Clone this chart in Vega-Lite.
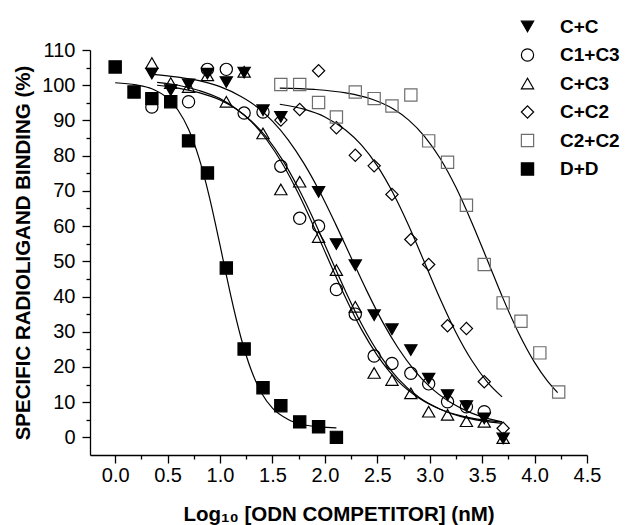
{
  "$schema": "https://vega.github.io/schema/vega-lite/v6.json",
  "width": 497,
  "height": 405,
  "autosize": {"type": "none"},
  "padding": {"left": 90, "top": 50, "right": 52, "bottom": 70},
  "background": "white",
  "config": {
    "view": {"stroke": null},
    "font": "Liberation Sans",
    "axis": {"domainColor": "black", "tickColor": "black", "domainWidth": 1.3, "tickWidth": 1.3, "labelColor": "black", "titleColor": "black", "grid": false, "labelFont": "Liberation Sans", "titleFont": "Liberation Sans", "labelFontSize": 20, "titleFontSize": 20.5, "titleFontWeight": "bold", "labelOverlap": false, "labelFlush": false}
  },
  "datasets": {
    "pts": [
      {"s": "C+C", "x": 0.35, "y": 103.3}, {"s": "C+C", "x": 0.53, "y": 98.6}, {"s": "C+C", "x": 0.70, "y": 100.2}, {"s": "C+C", "x": 0.88, "y": 103.3}, {"s": "C+C", "x": 1.06, "y": 100.9}, {"s": "C+C", "x": 1.23, "y": 103.6}, {"s": "C+C", "x": 1.41, "y": 92.9}, {"s": "C+C", "x": 1.58, "y": 91.0}, {"s": "C+C", "x": 1.94, "y": 69.7}, {"s": "C+C", "x": 2.11, "y": 54.9}, {"s": "C+C", "x": 2.29, "y": 48.9}, {"s": "C+C", "x": 2.47, "y": 34.7}, {"s": "C+C", "x": 2.64, "y": 30.7}, {"s": "C+C", "x": 2.82, "y": 24.8}, {"s": "C+C", "x": 2.99, "y": 16.7}, {"s": "C+C", "x": 3.17, "y": 12.0}, {"s": "C+C", "x": 3.35, "y": 8.9}, {"s": "C+C", "x": 3.52, "y": 5.4}, {"s": "C+C", "x": 3.70, "y": -0.3},
      {"s": "C1+C3", "x": 0.35, "y": 93.8}, {"s": "C1+C3", "x": 0.70, "y": 95.3}, {"s": "C1+C3", "x": 0.88, "y": 104.5}, {"s": "C1+C3", "x": 1.06, "y": 104.5}, {"s": "C1+C3", "x": 1.23, "y": 92.1}, {"s": "C1+C3", "x": 1.41, "y": 92.4}, {"s": "C1+C3", "x": 1.58, "y": 77.0}, {"s": "C1+C3", "x": 1.76, "y": 62.2}, {"s": "C1+C3", "x": 1.94, "y": 60.0}, {"s": "C1+C3", "x": 2.11, "y": 42.0}, {"s": "C1+C3", "x": 2.29, "y": 35.0}, {"s": "C1+C3", "x": 2.47, "y": 23.1}, {"s": "C1+C3", "x": 2.64, "y": 21.0}, {"s": "C1+C3", "x": 2.82, "y": 18.2}, {"s": "C1+C3", "x": 2.99, "y": 15.2}, {"s": "C1+C3", "x": 3.17, "y": 10.1}, {"s": "C1+C3", "x": 3.35, "y": 8.7}, {"s": "C1+C3", "x": 3.52, "y": 7.3},
      {"s": "C+C3", "x": 0.35, "y": 106.3}, {"s": "C+C3", "x": 0.53, "y": 100.6}, {"s": "C+C3", "x": 0.70, "y": 99.5}, {"s": "C+C3", "x": 0.88, "y": 102.8}, {"s": "C+C3", "x": 1.06, "y": 95.3}, {"s": "C+C3", "x": 1.23, "y": 103.8}, {"s": "C+C3", "x": 1.41, "y": 86.3}, {"s": "C+C3", "x": 1.58, "y": 70.4}, {"s": "C+C3", "x": 1.76, "y": 72.6}, {"s": "C+C3", "x": 1.94, "y": 56.9}, {"s": "C+C3", "x": 2.11, "y": 47.5}, {"s": "C+C3", "x": 2.29, "y": 37.1}, {"s": "C+C3", "x": 2.47, "y": 18.3}, {"s": "C+C3", "x": 2.64, "y": 16.3}, {"s": "C+C3", "x": 2.82, "y": 12.5}, {"s": "C+C3", "x": 2.99, "y": 7.3}, {"s": "C+C3", "x": 3.17, "y": 6.4}, {"s": "C+C3", "x": 3.35, "y": 4.6}, {"s": "C+C3", "x": 3.52, "y": 4.4}, {"s": "C+C3", "x": 3.70, "y": -0.2},
      {"s": "C+C2", "x": 1.58, "y": 90.1}, {"s": "C+C2", "x": 1.76, "y": 93.1}, {"s": "C+C2", "x": 1.94, "y": 104.1}, {"s": "C+C2", "x": 2.11, "y": 87.9}, {"s": "C+C2", "x": 2.29, "y": 80.1}, {"s": "C+C2", "x": 2.47, "y": 77.1}, {"s": "C+C2", "x": 2.64, "y": 69.0}, {"s": "C+C2", "x": 2.82, "y": 56.2}, {"s": "C+C2", "x": 2.99, "y": 49.1}, {"s": "C+C2", "x": 3.17, "y": 31.7}, {"s": "C+C2", "x": 3.35, "y": 30.9}, {"s": "C+C2", "x": 3.52, "y": 15.8}, {"s": "C+C2", "x": 3.70, "y": 2.6},
      {"s": "C2+C2", "x": 1.58, "y": 100.2}, {"s": "C2+C2", "x": 1.76, "y": 100.2}, {"s": "C2+C2", "x": 1.94, "y": 95.1}, {"s": "C2+C2", "x": 2.11, "y": 91.0}, {"s": "C2+C2", "x": 2.29, "y": 98.1}, {"s": "C2+C2", "x": 2.47, "y": 96.2}, {"s": "C2+C2", "x": 2.64, "y": 94.1}, {"s": "C2+C2", "x": 2.82, "y": 97.2}, {"s": "C2+C2", "x": 2.99, "y": 84.2}, {"s": "C2+C2", "x": 3.17, "y": 78.1}, {"s": "C2+C2", "x": 3.35, "y": 65.9}, {"s": "C2+C2", "x": 3.52, "y": 49.1}, {"s": "C2+C2", "x": 3.70, "y": 38.2}, {"s": "C2+C2", "x": 3.87, "y": 33.0}, {"s": "C2+C2", "x": 4.05, "y": 24.0}, {"s": "C2+C2", "x": 4.23, "y": 12.9},
      {"s": "D+D", "x": 0.0, "y": 105.2}, {"s": "D+D", "x": 0.18, "y": 98.1}, {"s": "D+D", "x": 0.35, "y": 96.2}, {"s": "D+D", "x": 0.53, "y": 95.3}, {"s": "D+D", "x": 0.70, "y": 84.2}, {"s": "D+D", "x": 0.88, "y": 75.1}, {"s": "D+D", "x": 1.06, "y": 48.1}, {"s": "D+D", "x": 1.23, "y": 25.1}, {"s": "D+D", "x": 1.41, "y": 14.1}, {"s": "D+D", "x": 1.58, "y": 9.0}, {"s": "D+D", "x": 1.76, "y": 4.4}, {"s": "D+D", "x": 1.94, "y": 3.0}, {"s": "D+D", "x": 2.11, "y": 0.0}
    ],
    "curves": [
      {"s": "C+C", "x": 0.36, "y": 103.1}, {"s": "C+C", "x": 0.6, "y": 102.3}, {"s": "C+C", "x": 0.8, "y": 101.3}, {"s": "C+C", "x": 1.0, "y": 99.6}, {"s": "C+C", "x": 1.2, "y": 96.8}, {"s": "C+C", "x": 1.35, "y": 93.9}, {"s": "C+C", "x": 1.5, "y": 89.8}, {"s": "C+C", "x": 1.65, "y": 84.5}, {"s": "C+C", "x": 1.8, "y": 77.8}, {"s": "C+C", "x": 1.95, "y": 69.8}, {"s": "C+C", "x": 2.1, "y": 60.7}, {"s": "C+C", "x": 2.25, "y": 51.1}, {"s": "C+C", "x": 2.4, "y": 41.6}, {"s": "C+C", "x": 2.55, "y": 32.8}, {"s": "C+C", "x": 2.7, "y": 25.3}, {"s": "C+C", "x": 2.85, "y": 19.2}, {"s": "C+C", "x": 3.0, "y": 14.4}, {"s": "C+C", "x": 3.2, "y": 9.9}, {"s": "C+C", "x": 3.4, "y": 6.9}, {"s": "C+C", "x": 3.55, "y": 5.4}, {"s": "C+C", "x": 3.69, "y": 4.4},
      {"s": "C1+C3", "x": 0.4, "y": 100.0}, {"s": "C1+C3", "x": 0.6, "y": 99.2}, {"s": "C1+C3", "x": 0.8, "y": 97.9}, {"s": "C1+C3", "x": 1.0, "y": 95.8}, {"s": "C1+C3", "x": 1.15, "y": 93.3}, {"s": "C1+C3", "x": 1.3, "y": 89.8}, {"s": "C1+C3", "x": 1.45, "y": 85.0}, {"s": "C1+C3", "x": 1.6, "y": 78.6}, {"s": "C1+C3", "x": 1.75, "y": 70.6}, {"s": "C1+C3", "x": 1.9, "y": 61.4}, {"s": "C1+C3", "x": 2.05, "y": 51.3}, {"s": "C1+C3", "x": 2.2, "y": 41.3}, {"s": "C1+C3", "x": 2.35, "y": 32.2}, {"s": "C1+C3", "x": 2.5, "y": 24.5}, {"s": "C1+C3", "x": 2.7, "y": 16.6}, {"s": "C1+C3", "x": 2.9, "y": 11.3}, {"s": "C1+C3", "x": 3.1, "y": 8.0}, {"s": "C1+C3", "x": 3.3, "y": 5.9}, {"s": "C1+C3", "x": 3.5, "y": 4.7}, {"s": "C1+C3", "x": 3.69, "y": 4.0},
      {"s": "C+C3", "x": 0.4, "y": 100.8}, {"s": "C+C3", "x": 0.6, "y": 100.0}, {"s": "C+C3", "x": 0.8, "y": 98.5}, {"s": "C+C3", "x": 1.0, "y": 96.2}, {"s": "C+C3", "x": 1.15, "y": 93.4}, {"s": "C+C3", "x": 1.3, "y": 89.6}, {"s": "C+C3", "x": 1.45, "y": 84.3}, {"s": "C+C3", "x": 1.6, "y": 77.5}, {"s": "C+C3", "x": 1.75, "y": 69.1}, {"s": "C+C3", "x": 1.9, "y": 59.5}, {"s": "C+C3", "x": 2.05, "y": 49.4}, {"s": "C+C3", "x": 2.2, "y": 39.5}, {"s": "C+C3", "x": 2.35, "y": 30.6}, {"s": "C+C3", "x": 2.5, "y": 23.3}, {"s": "C+C3", "x": 2.7, "y": 15.9}, {"s": "C+C3", "x": 2.9, "y": 11.1}, {"s": "C+C3", "x": 3.1, "y": 8.0}, {"s": "C+C3", "x": 3.3, "y": 6.1}, {"s": "C+C3", "x": 3.5, "y": 5.0}, {"s": "C+C3", "x": 3.69, "y": 4.4},
      {"s": "C+C2", "x": 1.57, "y": 94.6}, {"s": "C+C2", "x": 1.8, "y": 93.2}, {"s": "C+C2", "x": 2.0, "y": 91.0}, {"s": "C+C2", "x": 2.2, "y": 87.2}, {"s": "C+C2", "x": 2.35, "y": 83.0}, {"s": "C+C2", "x": 2.5, "y": 77.1}, {"s": "C+C2", "x": 2.65, "y": 69.4}, {"s": "C+C2", "x": 2.8, "y": 60.1}, {"s": "C+C2", "x": 2.95, "y": 49.7}, {"s": "C+C2", "x": 3.1, "y": 39.3}, {"s": "C+C2", "x": 3.25, "y": 29.8}, {"s": "C+C2", "x": 3.4, "y": 21.9}, {"s": "C+C2", "x": 3.55, "y": 15.7}, {"s": "C+C2", "x": 3.69, "y": 11.5},
      {"s": "C2+C2", "x": 1.57, "y": 99.2}, {"s": "C2+C2", "x": 1.9, "y": 98.8}, {"s": "C2+C2", "x": 2.2, "y": 97.8}, {"s": "C2+C2", "x": 2.45, "y": 96.0}, {"s": "C2+C2", "x": 2.65, "y": 93.3}, {"s": "C2+C2", "x": 2.8, "y": 90.1}, {"s": "C2+C2", "x": 2.95, "y": 85.5}, {"s": "C2+C2", "x": 3.1, "y": 79.2}, {"s": "C2+C2", "x": 3.25, "y": 71.0}, {"s": "C2+C2", "x": 3.4, "y": 61.1}, {"s": "C2+C2", "x": 3.55, "y": 50.3}, {"s": "C2+C2", "x": 3.7, "y": 39.4}, {"s": "C2+C2", "x": 3.85, "y": 29.5}, {"s": "C2+C2", "x": 4.0, "y": 21.3}, {"s": "C2+C2", "x": 4.12, "y": 16.1}, {"s": "C2+C2", "x": 4.22, "y": 12.7},
      {"s": "D+D", "x": 0.0, "y": 100.7}, {"s": "D+D", "x": 0.2, "y": 100.1}, {"s": "D+D", "x": 0.35, "y": 99.0}, {"s": "D+D", "x": 0.5, "y": 96.3}, {"s": "D+D", "x": 0.6, "y": 92.9}, {"s": "D+D", "x": 0.7, "y": 87.5}, {"s": "D+D", "x": 0.8, "y": 79.3}, {"s": "D+D", "x": 0.9, "y": 68.1}, {"s": "D+D", "x": 0.95, "y": 61.5}, {"s": "D+D", "x": 1.0, "y": 54.6}, {"s": "D+D", "x": 1.05, "y": 47.5}, {"s": "D+D", "x": 1.1, "y": 40.6}, {"s": "D+D", "x": 1.2, "y": 28.3}, {"s": "D+D", "x": 1.3, "y": 18.9}, {"s": "D+D", "x": 1.4, "y": 12.4}, {"s": "D+D", "x": 1.5, "y": 8.3}, {"s": "D+D", "x": 1.65, "y": 5.1}, {"s": "D+D", "x": 1.8, "y": 3.6}, {"s": "D+D", "x": 1.95, "y": 3.0}, {"s": "D+D", "x": 2.11, "y": 2.7}
    ]
  },
  "layer": [
    {
      "data": {"name": "curves"},
      "mark": {"type": "line", "color": "black", "strokeWidth": 1.2, "interpolate": "monotone"},
      "encoding": {
        "x": {"field": "x", "type": "quantitative", "scale": {"domain": [-0.24, 4.5], "nice": false, "zero": false},
          "axis": {"title": "Log₁₀ [ODN COMPETITOR] (nM)", "values": [0,0.25,0.5,0.75,1,1.25,1.5,1.75,2,2.25,2.5,2.75,3,3.25,3.5,3.75,4,4.25,4.5], "tickCount": 100,
            "labelExpr": "(datum.value*2) % 1 === 0 ? format(datum.value, '.1f') : ''",
            "tickSize": {"condition": {"test": "(datum.value*2) % 1 === 0", "value": 8}, "value": 4},
            "labelFontSize": {"condition": {"test": "(datum.value*2) % 1 === 0", "value": 20}, "value": 1},
            "labelOverlap": false, "labelFlush": false, "titleFontSize": 20.5,
            "labelPadding": 2, "titleY": 65, "titleBaseline": "alphabetic"}},
        "y": {"field": "y", "type": "quantitative", "scale": {"domain": [-5, 110], "nice": false, "zero": false},
          "axis": {"title": "SPECIFIC RADIOLIGAND BINDING (%)", "values": [0,5,10,15,20,25,30,35,40,45,50,55,60,65,70,75,80,85,90,95,100,105,110], "tickCount": 100,
            "labelExpr": "datum.value % 10 === 0 ? datum.label : ''",
            "tickSize": {"condition": {"test": "datum.value % 10 === 0", "value": 8}, "value": 4},
            "labelFontSize": {"condition": {"test": "datum.value % 10 === 0", "value": 20}, "value": 1},
            "labelOverlap": false, "labelFlush": false, "titleFontSize": 20.5,
            "labelPadding": 7, "titleX": -67, "titleY": 202.5, "titleBaseline": "middle"}},
        "detail": {"field": "s", "type": "nominal"}
      }
    },
    {
      "data": {"name": "pts"},
      "mark": {"type": "point", "size": 150, "strokeWidth": 1.2, "opacity": 1},
      "encoding": {
        "x": {"field": "x", "type": "quantitative"},
        "y": {"field": "y", "type": "quantitative"},
        "shape": {"field": "s", "type": "nominal",
          "scale": {"domain": ["C+C", "C1+C3", "C+C3", "C+C2", "C2+C2", "D+D"], "range": ["triangle-down", "circle", "triangle-up", "diamond", "square", "square"]},
          "legend": {"orient": "none", "legendX": 428, "legendY": -33, "title": null, "padding": 0, "labelFontSize": 19, "labelFontWeight": "bold", "labelFont": "Liberation Sans", "labelColor": "black", "symbolSize": 150, "rowPadding": 8.5, "labelOffset": 23, "symbolStrokeWidth": 1.2}},
        "fill": {"field": "s", "type": "nominal",
          "scale": {"domain": ["C+C", "C1+C3", "C+C3", "C+C2", "C2+C2", "D+D"], "range": ["black", "transparent", "transparent", "transparent", "transparent", "black"]}},
        "stroke": {"field": "s", "type": "nominal",
          "scale": {"domain": ["C+C", "C1+C3", "C+C3", "C+C2", "C2+C2", "D+D"], "range": ["black", "black", "black", "black", "#6e6e6e", "black"]}}
      }
    }
  ]
}
